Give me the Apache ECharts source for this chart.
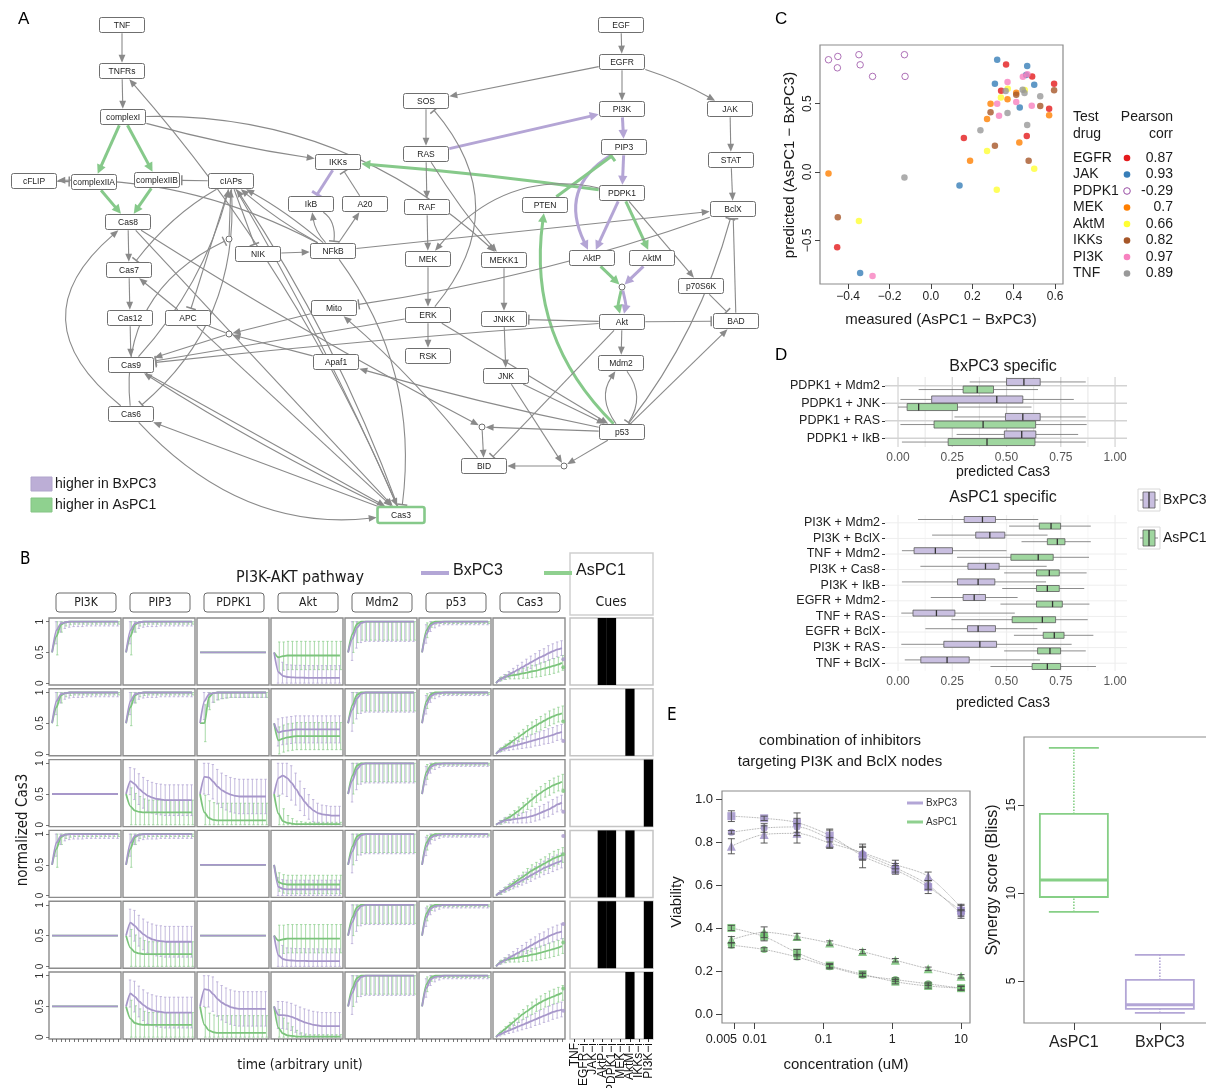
<!DOCTYPE html>
<html><head><meta charset="utf-8">
<script src="https://cdn.jsdelivr.net/npm/echarts@6.0.0/dist/echarts.min.js"></script>
<style>html,body{margin:0;padding:0;background:#fff;}#chart{width:1206px;height:1088px;}</style>
</head><body><div id="chart"></div>
<script>
// ================= Panel A : signalling network =================
const netNodes = [
 ['TNF',122,25],['TNFRs',122,71],['complexI',123,117],['cFLIP',34,181],['complexIIA',94,182],['complexIIB',157,180],['cIAPs',231,181],
 ['Cas8',128,222],['Cas7',129,270],['Cas12',130,318],['APC',188,318],['Cas9',131,365],['Cas6',131,414],
 ['NIK',258,254],['NFkB',333,251],['IkB',311,204],['A20',365,204],['IKKs',338,162],['Mito',334,308],['Apaf1',336,362],['Cas3',401,515],
 ['SOS',426,101],['RAS',426,154],['RAF',427,207],['MEK',428,259],['MEKK1',504,260],['ERK',428,315],['RSK',428,356],['JNKK',504,319],['JNK',506,376],['BID',484,466],
 ['PTEN',545,205],['EGF',621,25],['EGFR',622,62],['PI3K',622,109],['PIP3',624,147],['PDPK1',622,193],['AktP',592,258],['AktM',652,258],
 ['Akt',622,322],['Mdm2',621,363],['p53',622,432],['JAK',730,109],['STAT',731,160],['BclX',733,209],['p70S6K',701,286],['BAD',736,321]
];
const netJunctions = [['J1',622,287],['J2',482,427],['J3',564,466],['J4',229,334],['J5',229,239]];
// [source, target, a=activation / i=inhibition, g=grey / G=higher in AsPC1 / P=higher in BxPC3, curvature]
const netEdges = [
 ['TNF','TNFRs','a','g',0],['TNFRs','complexI','a','g',0],
 ['complexI','complexIIA','a','G',0],['complexI','complexIIB','a','G',0],
 ['complexIIA','Cas8','a','G',0],['complexIIB','Cas8','a','G',0],
 ['cFLIP','complexIIA','i','g',0],['cIAPs','complexIIB','i','g',0],
 ['complexI','IKKs','a','g',0.03],['complexI','MEKK1','a','g',-0.2],
 ['NFkB','cFLIP','a','g',0.13],['NFkB','IkB','a','g',-0.15],['NFkB','A20','a','g',0],
 ['A20','IKKs','i','g',0],['IKKs','IkB','i','P',0],['IkB','NFkB','i','g',-0.3],
 ['NIK','NFkB','a','g',0],['cIAPs','NIK','i','g',0],
 ['NFkB','cIAPs','a','g',0.05],['NFkB','cIAPs','a','g',-0.05],['NFkB','BclX','a','g',0.0],
 ['PDPK1','IKKs','a','G',0.015],['RAS','PI3K','a','P',0],['PI3K','PIP3','a','P',0],['PIP3','PDPK1','a','P',0],
 ['PIP3','AktP','a','P',0.45],['PDPK1','AktP','a','P',0],['PDPK1','AktM','a','G',0],
 ['PTEN','PIP3','i','G',0],['p53','PTEN','a','G',-0.25],
 ['AktP','J1','a','G',0],['AktM','J1','a','P',0],['J1','Akt','a','G',0.12],['J1','Akt','a','P',-0.12],
 ['EGF','EGFR','a','g',0],['EGFR','PI3K','a','g',0],['EGFR','SOS','a','g',0],['EGFR','JAK','a','g',-0.05],
 ['JAK','STAT','a','g',0],['STAT','BclX','a','g',0],
 ['SOS','RAS','a','g',0],['RAS','RAF','a','g',0],['RAF','MEK','a','g',0],['MEK','ERK','a','g',0],['ERK','RSK','a','g',0],
 ['MEKK1','JNKK','a','g',0],['JNKK','JNK','a','g',0],['RAS','MEKK1','a','g',0.04],
 ['ERK','SOS','i','g',0.42],['PDPK1','MEK','a','g',0.3],['PDPK1','p70S6K','a','g',0],['p70S6K','BAD','i','g',0],
 ['Akt','JNKK','i','g',0],['Akt','BAD','i','g',0],['Akt','Mdm2','a','g',0],
 ['Mdm2','p53','i','g',-0.35],['p53','Mdm2','a','g',-0.35],['p53','BAD','a','g',0],['p53','BclX','i','g',0.1],['BAD','BclX','i','g',0],
 ['Akt','BID','i','g',0],['p53','J2','a','g',0],['J2','BID','a','g',0],['Cas8','J2','a','g',0.02],
 ['JNK','J3','a','g',0],['p53','J3','a','g',0],['J3','BID','a','g',0],['ERK','p53','a','g',0],['JNK','p53','a','g',0],
 ['BID','Mito','a','g',0.05],['p53','Apaf1','a','g',-0.02],['BclX','Mito','i','g',-0.05],
 ['Mito','J4','a','g',0],['Apaf1','J4','a','g',0],['J4','APC','a','g',0],['J4','Cas9','a','g',0],
 ['ERK','Cas9','i','g',0],['Akt','Cas9','i','g',0.01],
 ['Cas8','Cas7','a','g',0],['Cas7','Cas12','a','g',0],['Cas12','Cas9','a','g',0],['APC','Cas7','a','g',0],
 ['cIAPs','Cas7','i','g',0.1],['cIAPs','APC','i','g',0],['Cas9','cIAPs','a','g',0.12],['Cas3','cIAPs','a','g',0.06],
 ['cIAPs','Cas3','a','g',-0.03],['Cas8','Cas3','a','g',0],['Cas9','Cas3','a','g',0],['Cas3','Cas9','a','g',-0.03],
 ['APC','Cas3','a','g',0],['Cas3','Cas6','a','g',0],['Cas6','Cas3','a','g',0.25],['Cas6','Cas8','a','g',-0.6],
 ['Cas6','J5','i','g',-0.35],['J5','cIAPs','a','g',0],['cIAPs','Cas6','i','g',-0.25],
 ['Cas3','TNFRs','a','g',0.08],['NFkB','Cas3','i','g',-0.2]
];
const netLegend = ['higher in BxPC3','higher in AsPC1'];

// ================= Panel B : simulated time courses =================
const bColumns = ['PI3K','PIP3','PDPK1','Akt','Mdm2','p53','Cas3'];
const bTime = [0,1,2,3,4,5,6,7,8,9,10,11,12,13,14,15];
const bYTicks = [0,0.5,1];
const riseB = [0.5,0.86,0.97,0.99,1,1,1,1,1,1,1,1,1,1,1,1];
const riseA = [0.5,0.76,0.95,0.99,1,1,1,1,1,1,1,1,1,1,1,1];
const riseErrB = [0,0.22,0.14,0.1,0.09,0.08,0.08,0.08,0.07,0.07,0.07,0.07,0.07,0.07,0.07,0.07];
const riseErrA = [0,0.3,0.12,0.06,0.05,0.04,0.04,0.04,0.04,0.04,0.04,0.04,0.04,0.04,0.04,0.04];
const flatHalf = [0.5,0.5,0.5,0.5,0.5,0.5,0.5,0.5,0.5,0.5,0.5,0.5,0.5,0.5,0.5,0.5];
const noErr = [0,0,0,0,0,0,0,0,0,0,0,0,0,0,0,0];
const pdpkRiseA = [0.5,0.5,0.92,0.99,1,1,1,1,1,1,1,1,1,1,1,1];
const pdpkErr = [0,0.3,0.2,0.15,0.12,0.1,0.09,0.08,0.08,0.08,0.08,0.08,0.08,0.08,0.08,0.08];
const pip3DecB = [0.5,0.71,0.66,0.58,0.52,0.47,0.44,0.42,0.41,0.4,0.4,0.4,0.4,0.4,0.4,0.4];
const pip3DecA = [0.5,0.3,0.23,0.21,0.2,0.2,0.2,0.2,0.2,0.2,0.2,0.2,0.2,0.2,0.2,0.2];
const decErrB = [0,0.22,0.25,0.25,0.25,0.25,0.25,0.25,0.25,0.25,0.25,0.25,0.25,0.25,0.25,0.25];
const decErrA = [0,0.3,0.28,0.25,0.22,0.2,0.2,0.2,0.2,0.2,0.2,0.2,0.2,0.2,0.2,0.2];
const pdpkDecB = [0.5,0.78,0.77,0.7,0.62,0.56,0.52,0.49,0.47,0.46,0.46,0.46,0.46,0.46,0.46,0.46];
const pdpkDecA = [0.5,0.2,0.11,0.08,0.07,0.07,0.07,0.07,0.07,0.07,0.07,0.07,0.07,0.07,0.07,0.07];
const pdpkDecErr = [0,0.28,0.28,0.28,0.28,0.28,0.28,0.28,0.28,0.28,0.28,0.28,0.28,0.28,0.28,0.28];
const aktInhB = [0.5,0.18,0.12,0.1,0.095,0.09,0.09,0.088,0.086,0.085,0.085,0.085,0.085,0.085,0.085,0.085];
const aktInhA = [0.5,0.42,0.44,0.45,0.45,0.45,0.45,0.45,0.45,0.45,0.45,0.45,0.45,0.45,0.45,0.45];
const aktInhErrB = [0,0.25,0.22,0.2,0.2,0.2,0.2,0.2,0.2,0.2,0.2,0.2,0.2,0.2,0.2,0.2];
const aktInhErrA = [0,0.25,0.23,0.23,0.23,0.23,0.23,0.23,0.23,0.23,0.23,0.23,0.23,0.23,0.23,0.23];
const aktMB = [0.5,0.35,0.37,0.38,0.39,0.4,0.4,0.4,0.4,0.4,0.4,0.4,0.4,0.4,0.4,0.4];
const aktMA = [0.5,0.22,0.25,0.27,0.28,0.29,0.29,0.29,0.29,0.29,0.29,0.29,0.29,0.29,0.29,0.29];
const aktMErr = [0,0.22,0.22,0.22,0.22,0.22,0.22,0.22,0.22,0.22,0.22,0.22,0.22,0.22,0.22,0.22];
const aktPiB = [0.5,0.76,0.8,0.76,0.68,0.58,0.47,0.37,0.29,0.23,0.19,0.17,0.16,0.15,0.15,0.15];
const aktPiA = [0.5,0.18,0.06,0.03,0.02,0.01,0.01,0.01,0.01,0.01,0.01,0.01,0.01,0.01,0.01,0.01];
const aktPiErrB = [0,0.3,0.3,0.3,0.28,0.26,0.24,0.22,0.2,0.18,0.16,0.15,0.15,0.15,0.15,0.15];
const aktPiErrA = [0,0.3,0.2,0.12,0.08,0.05,0.04,0.03,0.03,0.03,0.03,0.03,0.03,0.03,0.03,0.03];
const aktAllB = [0.5,0.14,0.11,0.1,0.1,0.1,0.1,0.1,0.1,0.1,0.1,0.1,0.1,0.1,0.1,0.1];
const aktAllA = [0.5,0.22,0.19,0.18,0.18,0.18,0.18,0.18,0.18,0.18,0.18,0.18,0.18,0.18,0.18,0.18];
const aktAllErr = [0,0.15,0.15,0.15,0.15,0.15,0.15,0.15,0.15,0.15,0.15,0.15,0.15,0.15,0.15,0.15];
const aktMPiB = [0.5,0.36,0.36,0.35,0.33,0.3,0.27,0.24,0.22,0.2,0.19,0.18,0.18,0.18,0.18,0.18];
const aktMPiA = [0.5,0.15,0.06,0.03,0.02,0.01,0.01,0.01,0.01,0.01,0.01,0.01,0.01,0.01,0.01,0.01];
const aktMPiErrB = [0,0.22,0.22,0.22,0.22,0.22,0.22,0.22,0.22,0.22,0.22,0.22,0.22,0.22,0.22,0.22];
const aktMPiErrA = [0,0.3,0.25,0.2,0.15,0.1,0.06,0.04,0.03,0.03,0.03,0.03,0.03,0.03,0.03,0.03];
const mdmB = [0.5,0.72,0.9,0.98,1,1,1,1,1,1,1,1,1,1,1,1];
const mdmA = [0.5,0.8,0.96,1,1,1,1,1,1,1,1,1,1,1,1,1];
const mdmErrB = [0,0.35,0.33,0.32,0.32,0.32,0.32,0.32,0.32,0.32,0.32,0.32,0.32,0.32,0.32,0.32];
const mdmErrA = [0,0.3,0.3,0.3,0.3,0.3,0.3,0.3,0.3,0.3,0.3,0.3,0.3,0.3,0.3,0.3];
const p53B = [0.5,0.8,0.94,0.98,0.99,1,1,1,1,1,1,1,1,1,1,1];
const p53A = [0.5,0.86,0.97,1,1,1,1,1,1,1,1,1,1,1,1,1];
const p53ErrB = [0,0.15,0.1,0.08,0.06,0.05,0.05,0.05,0.05,0.05,0.05,0.05,0.05,0.05,0.05,0.05];
const p53ErrA = [0,0.12,0.06,0.04,0.03,0.03,0.03,0.03,0.03,0.03,0.03,0.03,0.03,0.03,0.03,0.03];
const cas3B1 = [0,0.06,0.1,0.14,0.18,0.22,0.26,0.3,0.34,0.38,0.42,0.45,0.49,0.52,0.55,0.57];
const cas3A1 = [0,0.07,0.1,0.12,0.13,0.14,0.16,0.17,0.19,0.2,0.22,0.24,0.26,0.28,0.3,0.33];
const cas3B2 = [0,0.06,0.09,0.11,0.13,0.15,0.17,0.19,0.21,0.23,0.25,0.27,0.29,0.31,0.34,0.36];
const cas3A2 = [0,0.07,0.12,0.17,0.22,0.27,0.32,0.37,0.42,0.46,0.5,0.54,0.58,0.61,0.64,0.66];
const cas3B3 = [0,0.04,0.07,0.08,0.09,0.1,0.11,0.12,0.14,0.16,0.19,0.22,0.25,0.29,0.33,0.36];
const cas3A3 = [0,0.04,0.08,0.12,0.17,0.22,0.28,0.34,0.4,0.46,0.51,0.56,0.6,0.64,0.67,0.7];
const cas3B4 = [0,0.05,0.09,0.13,0.17,0.21,0.25,0.29,0.33,0.37,0.41,0.45,0.48,0.51,0.54,0.57];
const cas3A4 = [0,0.05,0.1,0.15,0.2,0.25,0.3,0.35,0.4,0.44,0.48,0.52,0.56,0.6,0.63,0.66];
const cas3B6 = [0,0.05,0.08,0.11,0.14,0.17,0.2,0.23,0.26,0.29,0.32,0.35,0.38,0.41,0.43,0.45];
const cas3A6 = [0,0.07,0.13,0.19,0.25,0.31,0.37,0.42,0.47,0.52,0.56,0.6,0.63,0.66,0.69,0.72];
const cas3Err = [0,0.03,0.04,0.05,0.06,0.07,0.08,0.09,0.1,0.1,0.11,0.11,0.12,0.12,0.12,0.12];
const cas3MeasB = [0.39,0.21,0.21,0.97,0.69,0.43];
const cas3MeasA = [0.26,0.53,0.55,0.67,0.39,0.79];
const cueNames = ['TNF','EGFR\u2212i','JAK\u2212i','AktP\u2212i','PDPK1\u2212i','MEK\u2212i','AktM\u2212i','IKKs\u2212i','PI3K\u2212i'];
const cueMatrix = [
 [0,0,0,1,1,0,0,0,0],
 [0,0,0,0,0,0,1,0,0],
 [0,0,0,0,0,0,0,0,1],
 [0,0,0,1,1,0,1,0,0],
 [0,0,0,1,1,0,0,0,1],
 [0,0,0,0,0,0,1,0,1]
];
const P = (b,a,eb,ea) => ({b,a,eb,ea});
const cRise = P(riseB,riseA,riseErrB,riseErrA);
const cFlat = P(flatHalf,flatHalf,noErr,noErr);
const cMdm = P(mdmB,mdmA,mdmErrB,mdmErrA);
const cP53 = P(p53B,p53A,p53ErrB,p53ErrA);
const cPip3Dec = P(pip3DecB,pip3DecA,decErrB,decErrA);
const cPdpkDec = P(pdpkDecB,pdpkDecA,pdpkDecErr,pdpkDecErr);
const bCells = [
 [cRise, cRise, cFlat, P(aktInhB,aktInhA,aktInhErrB,aktInhErrA), cMdm, cP53, P(cas3B1,cas3A1,cas3Err,cas3Err)],
 [cRise, cRise, P(riseB,pdpkRiseA,pdpkErr,pdpkErr), P(aktMB,aktMA,aktMErr,aktMErr), cMdm, cP53, P(cas3B2,cas3A2,cas3Err,cas3Err)],
 [cFlat, cPip3Dec, cPdpkDec, P(aktPiB,aktPiA,aktPiErrB,aktPiErrA), cMdm, cP53, P(cas3B3,cas3A3,cas3Err,cas3Err)],
 [cRise, cRise, cFlat, P(aktAllB,aktAllA,aktAllErr,aktAllErr), cMdm, cP53, P(cas3B4,cas3A4,cas3Err,cas3Err)],
 [cFlat, cPip3Dec, cFlat, P(aktInhB,aktInhA,aktInhErrB,aktInhErrA), cMdm, cP53, P(cas3B1,cas3A1,cas3Err,cas3Err)],
 [cFlat, cPip3Dec, cPdpkDec, P(aktMPiB,aktMPiA,aktMPiErrB,aktMPiErrA), cMdm, cP53, P(cas3B6,cas3A6,cas3Err,cas3Err)]
];

// ================= Panel C : predicted vs measured =================
const cXTicks = [-0.4,-0.2,0,0.2,0.4,0.6];
const cYTicks = [-0.5,0,0.5];
const cDrugs = ['EGFR','JAK','PDPK1','MEK','AktM','IKKs','PI3K','TNF'];
const cCorr = ['0.87','0.93','-0.29','0.7','0.66','0.82','0.97','0.89'];
const cEGFR = [[0.363,0.788],[0.339,0.595],[0.489,0.70],[0.595,0.646],[0.571,0.463],[0.463,0.263],[0.159,0.249],[-0.453,-0.551]];
const cJAK = [[0.32,0.822],[0.465,0.776],[0.309,0.646],[0.499,0.639],[0.429,0.473],[0.138,-0.098],[-0.342,-0.739],[0.46,0.71]];
const cPDPK1 = [[-0.495,0.822],[-0.45,0.846],[-0.452,0.763],[-0.348,0.859],[-0.342,0.785],[-0.282,0.70],[-0.128,0.859],[-0.125,0.70]];
const cMEK = [[-0.495,-0.01],[0.189,0.083],[0.271,0.388],[0.288,0.5],[0.37,0.532],[0.412,0.58],[0.571,0.415],[0.427,0.217]];
const cAktM = [[-0.348,-0.359],[0.271,0.154],[0.318,-0.129],[0.338,0.546],[0.371,0.61],[0.499,0.024],[0.453,0.6]];
const cIKKs = [[-0.45,-0.332],[0.288,0.437],[0.309,0.193],[0.412,0.566],[0.472,0.083],[0.528,0.483],[0.595,0.598]];
const cPI3K = [[-0.282,-0.761],[0.32,0.5],[0.329,0.412],[0.37,0.659],[0.412,0.512],[0.444,0.698],[0.466,0.715],[0.487,0.485]];
const cTNF = [[-0.128,-0.041],[0.239,0.305],[0.361,0.593],[0.37,0.432],[0.443,0.602],[0.452,0.578],[0.465,0.344],[0.528,0.554]];
const cPoints = [cEGFR,cJAK,cPDPK1,cMEK,cAktM,cIKKs,cPI3K,cTNF];

// ================= Panel D : predicted Cas3 box plots =================
const dTicks = [0,0.25,0.5,0.75,1];
const dTopCats = ['PDPK1 + Mdm2','PDPK1 + JNK','PDPK1 + RAS','PDPK1 + IkB'];
const dTopBx = [[0.33,0.50,0.58,0.655,0.865],[0.011,0.155,0.455,0.575,0.81],[0.26,0.495,0.575,0.655,0.865],[0.27,0.49,0.57,0.635,0.83]];
const dTopAs = [[0.095,0.30,0.365,0.44,0.645],[0.0,0.042,0.095,0.274,0.615],[0.011,0.166,0.392,0.634,0.869],[0.018,0.231,0.41,0.631,0.865]];
const dBotCats = ['PI3K + Mdm2','PI3K + BclX','TNF + Mdm2','PI3K + Cas8','PI3K + IkB','EGFR + Mdm2','TNF + RAS','EGFR + BclX','PI3K + RAS','TNF + BclX'];
const dBotBx = [[0.092,0.305,0.389,0.449,0.646],[0.157,0.358,0.423,0.492,0.689],[0.018,0.074,0.172,0.251,0.50],[0.103,0.322,0.403,0.466,0.685],[0.018,0.274,0.369,0.446,0.682],[0.151,0.30,0.351,0.403,0.551],[0.015,0.069,0.177,0.262,0.538],[0.126,0.32,0.369,0.449,0.642],[0.015,0.211,0.377,0.454,0.80],[0.031,0.105,0.226,0.328,0.654]];
const dBotAs = [[0.512,0.651,0.705,0.749,0.888],[0.569,0.688,0.734,0.769,0.888],[0.272,0.52,0.646,0.715,0.88],[0.489,0.638,0.697,0.743,0.869],[0.48,0.638,0.688,0.743,0.858],[0.472,0.638,0.712,0.757,0.882],[0.246,0.526,0.665,0.726,0.874],[0.534,0.669,0.72,0.765,0.90],[0.489,0.643,0.70,0.749,0.865],[0.426,0.618,0.688,0.749,0.912]];

// ================= Panel E : viability and synergy =================
const eConc = [0.00457,0.0137,0.0412,0.123,0.370,1.11,3.33,10];
const eXTicks = [0.005,0.01,0.1,1,10];
const eXTickLabels = ['0.005','0.01','0.1','1','10'];
const eYTicks = [0,0.2,0.4,0.6,0.8,1.0];
const eBxSq = [0.92,0.91,0.89,0.83,0.735,0.67,0.59,0.48];
const eBxCi = [0.845,0.865,0.87,0.815,0.745,0.68,0.60,0.465];
const eBxTr = [0.78,0.835,0.84,0.795,0.75,0.695,0.64,0.495];
const eAsSq = [0.40,0.36,0.285,0.225,0.185,0.15,0.13,0.12];
const eAsCi = [0.32,0.30,0.265,0.22,0.18,0.16,0.14,0.12];
const eAsTr = [0.345,0.38,0.36,0.33,0.29,0.25,0.21,0.175];
const eBxSqErr = [0.025,0.01,0.045,0.03,0.055,0.02,0.03,0.025];
const eBxCiErr = [0.008,0.02,0.04,0.04,0.03,0.02,0.02,0.02];
const eBxTrErr = [0.035,0.04,0.045,0.025,0.03,0.02,0.02,0.015];
const eAsSqErr = [0.012,0.02,0.015,0.01,0.01,0.01,0.01,0.01];
const eAsCiErr = [0.012,0.008,0.012,0.01,0.008,0.008,0.008,0.008];
const eAsTrErr = [0.015,0.025,0.015,0.01,0.01,0.008,0.008,0.008];
const synCats = ['AsPC1','BxPC3'];
const synTicks = [5,10,15];
const synBoxes = [[8.92,9.77,10.74,14.49,18.24],[3.18,3.41,3.64,5.06,6.48]];

// ================= building the chart =================
const FONT = "'Liberation Sans', Arial, Helvetica, sans-serif";
const NARROW = "'Liberation Sans Narrow', 'DejaVu Sans Condensed', 'Liberation Sans', sans-serif";
const PUR = '#a797ca', GRN = '#7cc47c', PUR_E = '#b6aad6', GRN_E = '#92d092';
const grids = [], xAxes = [], yAxes = [], series = [], graphics = [];
const noLine = {show: false, onZero: false};
function addGrid(g, xa, ya) {
  grids.push(Object.assign({outerBoundsMode: 'none', containLabel: false}, g));
  const gi = grids.length - 1;
  xAxes.push(Object.assign({gridIndex: gi, axisLine: noLine}, xa));
  yAxes.push(Object.assign({gridIndex: gi, axisLine: noLine}, ya));
  return gi;
}
function txt(text, x, y, opt) {
  opt = opt || {};
  graphics.push({type: 'text', x: x, y: y, rotation: opt.rot || 0, silent: true, z: 100,
    style: {text: text, font: opt.font || ('13px ' + FONT), fill: opt.color || '#1a1a1a',
      textAlign: opt.align || 'left', textVerticalAlign: opt.valign || 'middle'}});
}
function rectG(x, y, w, h, style, r) {
  graphics.push({type: 'rect', silent: true, z: 99, shape: {x: x, y: y, width: w, height: h, r: r || 0}, style: style});
}
function lineG(x1, y1, x2, y2, style) {
  graphics.push({type: 'line', silent: true, z: 99, shape: {x1: x1, y1: y1, x2: x2, y2: y2}, style: style});
}
function errBarSeries(gi, xs, ys, es, color, opt) {
  opt = opt || {};
  return {type: 'custom', xAxisIndex: gi, yAxisIndex: gi, silent: true, z: opt.z || 2, clip: false,
    data: xs.map((x, k) => [x, ys[k], es[k]]),
    renderItem: function (params, api) {
      const e = api.value(2); if (!e) return null;
      const y = api.value(1);
      let lo = y - e, hi = y + e;
      if (opt.clamp) { lo = Math.max(opt.clamp[0], lo); hi = Math.min(opt.clamp[1], hi); }
      const a = api.coord([api.value(0), lo]), b = api.coord([api.value(0), hi]);
      const x = a[0] + (opt.dx || 0), cw = opt.cap || 1.2, lw = opt.lw || 0.8;
      const st = () => ({stroke: color, lineWidth: lw, fill: 'none'});
      return {type: 'group', children: [
        {type: 'line', shape: {x1: x, y1: a[1], x2: x, y2: b[1]}, style: st()},
        {type: 'line', shape: {x1: x - cw, y1: a[1], x2: x + cw, y2: a[1]}, style: st()},
        {type: 'line', shape: {x1: x - cw, y1: b[1], x2: x + cw, y2: b[1]}, style: st()}]};
    }};
}

// ---------- Panel A ----------
const nodeInfo = {};
netNodes.forEach(n => { const big = n[0] === 'Cas3'; nodeInfo[n[0]] = {x: n[1], y: n[2], hw: big ? 23.5 : 22.5, hh: big ? 8 : 7.5}; });
netJunctions.forEach(n => { nodeInfo[n[0]] = {x: n[1], y: n[2], r: 3}; });
const edgeColor = {g: '#8a8a8a', G: '#86c98a', P: '#b4a5d5'};
const gA = addGrid({left: 0, top: 0, width: 760, height: 530},
  {type: 'value', min: 0, max: 760, show: false}, {type: 'value', min: 0, max: 530, inverse: true, show: false});
function boundary(c, info, q) {
  const dx = q[0] - c[0], dy = q[1] - c[1];
  const L = Math.hypot(dx, dy) || 1;
  if (info.r) return [c[0] + dx / L * (info.r + 0.6), c[1] + dy / L * (info.r + 0.6)];
  const sx = Math.abs(dx) > 1e-6 ? (info.hw + 0.8) / Math.abs(dx) : Infinity;
  const sy = Math.abs(dy) > 1e-6 ? (info.hh + 0.8) / Math.abs(dy) : Infinity;
  const s = Math.min(sx, sy, 1);
  return [c[0] + dx * s, c[1] + dy * s];
}
series.push({type: 'custom', xAxisIndex: gA, yAxisIndex: gA, silent: true, z: 2, clip: false,
  data: netEdges.map((e, i) => [i, 0]),
  renderItem: function (params, api) {
    const e = netEdges[params.dataIndex];
    const s = nodeInfo[e[0]], t = nodeInfo[e[1]];
    const p0 = api.coord([s.x, s.y]), p1 = api.coord([t.x, t.y]);
    const dx = p1[0] - p0[0], dy = p1[1] - p0[1], L = Math.hypot(dx, dy) || 1;
    const nx = -dy / L, ny = dx / L;
    const cp = [(p0[0] + p1[0]) / 2 + nx * e[4] * L, (p0[1] + p1[1]) / 2 + ny * e[4] * L];
    const a = boundary(p0, s, cp), b = boundary(p1, t, cp);
    const thick = e[3] !== 'g', col = edgeColor[e[3]];
    let tx = b[0] - cp[0], ty = b[1] - cp[1]; const tl = Math.hypot(tx, ty) || 1; tx /= tl; ty /= tl;
    const px = -ty, py = tx;
    const children = [];
    let end;
    if (e[2] === 'a') {
      const al = thick ? 9 : 8, aw = thick ? 4.6 : 3.4;
      const bx = b[0] - tx * al, by = b[1] - ty * al;
      children.push({type: 'polygon', shape: {points: [[b[0], b[1]], [bx + px * aw, by + py * aw], [bx - px * aw, by - py * aw]]}, style: {fill: col, stroke: 'none'}});
      end = [bx + tx, by + ty];
    } else {
      const ex = b[0] - tx * 1.5, ey = b[1] - ty * 1.5, hl = thick ? 6 : 5;
      children.push({type: 'line', shape: {x1: ex + px * hl, y1: ey + py * hl, x2: ex - px * hl, y2: ey - py * hl}, style: {stroke: col, lineWidth: thick ? 3 : 1.5, fill: 'none'}});
      end = [ex, ey];
    }
    children.push({type: 'bezierCurve', shape: {x1: a[0], y1: a[1], x2: end[0], y2: end[1], cpx1: cp[0], cpy1: cp[1]},
      style: {stroke: col, lineWidth: thick ? 3 : 1.1, fill: 'none'}});
    return {type: 'group', children: children};
  }});
series.push({type: 'custom', xAxisIndex: gA, yAxisIndex: gA, silent: true, z: 5, clip: false,
  data: netNodes.map(n => [n[1], n[2]]),
  renderItem: function (params, api) {
    const n = netNodes[params.dataIndex], info = nodeInfo[n[0]];
    const c = api.coord([api.value(0), api.value(1)]);
    const big = n[0] === 'Cas3';
    return {type: 'group', children: [
      {type: 'rect', shape: {x: c[0] - info.hw, y: c[1] - info.hh, width: info.hw * 2, height: info.hh * 2, r: 2},
        style: {fill: '#ffffff', stroke: big ? '#86c98a' : '#6f6f6f', lineWidth: big ? 2.6 : 1}},
      {type: 'text', x: c[0], y: c[1] + 0.5, style: {text: n[0], font: '8.5px ' + FONT, fill: '#222', textAlign: 'center', textVerticalAlign: 'middle'}}]};
  }});
series.push({type: 'custom', xAxisIndex: gA, yAxisIndex: gA, silent: true, z: 5, clip: false,
  data: netJunctions.map(n => [n[1], n[2]]),
  renderItem: function (params, api) {
    const c = api.coord([api.value(0), api.value(1)]);
    return {type: 'circle', shape: {cx: c[0], cy: c[1], r: 3}, style: {fill: '#fff', stroke: '#6f6f6f', lineWidth: 1}};
  }});
rectG(31, 477, 21, 14, {fill: '#bcaed6', stroke: '#b0a4cc', lineWidth: 1});
rectG(31, 498, 21, 14, {fill: '#8fd18f', stroke: '#84c484', lineWidth: 1});
txt(netLegend[0], 55, 484, {font: '14px ' + FONT});
txt(netLegend[1], 55, 505, {font: '14px ' + FONT});

// ---------- Panel B ----------
const bLeft0 = 49, bPitchX = 74, bW = 72, bTop0 = 618, bPitchY = 70.8, bH = 67;
for (let r = 0; r < 6; r++) {
  for (let c = 0; c < 7; c++) {
    const cell = bCells[r][c];
    const gi = addGrid({left: bLeft0 + c * bPitchX, top: bTop0 + r * bPitchY, width: bW, height: bH, show: true, borderColor: '#8c8c8c', borderWidth: 1.4, backgroundColor: '#fff'},
      {type: 'value', min: -0.7, max: 15.7, splitLine: {show: false}, axisLabel: {show: false},
        axisTick: {show: r === 5, length: 3, customValues: bTime, lineStyle: {color: '#555', width: 0.8}}},
      {type: 'value', min: -0.03, max: 1.06, splitLine: {show: false},
        axisLabel: {show: c === 0, rotate: 90, customValues: bYTicks, fontSize: 10, color: '#333', margin: 4, fontFamily: FONT, formatter: v => String(v)},
        axisTick: {show: c === 0, length: 3, customValues: bYTicks, lineStyle: {color: '#555', width: 0.8}}});
    series.push(errBarSeries(gi, bTime, cell.a, cell.ea, GRN_E, {dx: 0.8, clamp: [0, 1], z: 2}));
    series.push(errBarSeries(gi, bTime, cell.b, cell.eb, PUR_E, {dx: -0.4, clamp: [0, 1], z: 2}));
    series.push({type: 'line', xAxisIndex: gi, yAxisIndex: gi, silent: true, z: 3, symbol: 'none', smooth: 0.25, smoothMonotone: 'x',
      data: bTime.map((t, k) => [t, cell.a[k]]), lineStyle: {color: GRN, width: 1.8}});
    series.push({type: 'line', xAxisIndex: gi, yAxisIndex: gi, silent: true, z: 4, symbol: 'none', smooth: 0.25, smoothMonotone: 'x',
      data: bTime.map((t, k) => [t, cell.b[k]]), lineStyle: {color: PUR, width: 1.8}});
    if (c === 6) {
      series.push({type: 'scatter', xAxisIndex: gi, yAxisIndex: gi, silent: true, z: 5, symbolSize: 4,
        data: [[15.3, cas3MeasB[r]]], itemStyle: {color: PUR}});
      series.push({type: 'scatter', xAxisIndex: gi, yAxisIndex: gi, silent: true, z: 5, symbolSize: 4,
        data: [[15.3, cas3MeasA[r]]], itemStyle: {color: GRN}});
    }
  }
  const gc = addGrid({left: 570, top: bTop0 + r * bPitchY, width: 83, height: bH, show: true, borderColor: '#c4c4c4', borderWidth: 1.5},
    {type: 'category', data: cueNames, boundaryGap: true, splitLine: {show: false},
      axisTick: {show: r === 5, alignWithLabel: true, length: 3, lineStyle: {color: '#333'}},
      axisLabel: {show: r === 5, interval: 0, rotate: 90, fontSize: 12, color: '#111', margin: 4, fontFamily: FONT}},
    {type: 'value', min: 0, max: 1, show: false});
  series.push({type: 'bar', xAxisIndex: gc, yAxisIndex: gc, silent: true, barCategoryGap: '0%', barGap: '0%',
    data: cueMatrix[r], itemStyle: {color: '#000'}});
}
bColumns.forEach((name, c) => {
  const cx = bLeft0 + c * bPitchX + 37;
  rectG(cx - 30, 593, 60, 19, {fill: '#fff', stroke: '#6a6a6a', lineWidth: 1}, 3);
  txt(name, cx, 603, {font: '12px ' + NARROW, align: 'center', color: '#222'});
});
rectG(570, 553, 83, 62, {fill: 'none', stroke: '#cfcfcf', lineWidth: 1.5});
txt('Cues', 611, 602, {font: '14px ' + NARROW, align: 'center'});
txt('PI3K-AKT pathway', 300, 578, {font: '16px ' + NARROW, align: 'center'});
lineG(421, 573, 449, 573, {stroke: '#b3a6d6', lineWidth: 4});
txt('BxPC3', 453, 571, {font: '16px ' + FONT});
lineG(544, 573, 572, 573, {stroke: '#8fd08f', lineWidth: 4});
txt('AsPC1', 576, 571, {font: '16px ' + FONT});
txt('normalized Cas3', 23, 830, {font: '15px ' + NARROW, align: 'center', rot: Math.PI / 2});
txt('time (arbitrary unit)', 300, 1065, {font: '14px ' + NARROW, align: 'center'});

// ---------- Panel C ----------
const minusFmt = (v, d) => (v < -1e-9 ? '\u2212' : '') + Math.abs(v).toFixed(d);
const gC = addGrid({left: 820, top: 45, width: 243, height: 239, show: true, borderColor: '#8c8c8c', borderWidth: 1.2},
  {type: 'value', min: -0.536, max: 0.638, splitLine: {show: false},
    axisTick: {customValues: cXTicks, length: 5, lineStyle: {color: '#444'}},
    axisLabel: {customValues: cXTicks, formatter: v => minusFmt(v, 1), fontSize: 12, color: '#222', margin: 7, fontFamily: FONT, hideOverlap: false}},
  {type: 'value', min: -0.82, max: 0.93, splitLine: {show: false},
    axisTick: {customValues: cYTicks, length: 5, lineStyle: {color: '#444'}},
    axisLabel: {customValues: cYTicks, formatter: v => minusFmt(v, 1), rotate: 90, fontSize: 12, color: '#222', margin: 6, fontFamily: FONT}});
const cColors = ['#e41a1c', '#377eb8', '#984ea3', '#ff7f00', '#ffff33', '#a65628', '#f781bf', '#999999'];
cPoints.forEach((pts, i) => {
  const hollow = cDrugs[i] === 'PDPK1';
  series.push({type: 'scatter', xAxisIndex: gC, yAxisIndex: gC, silent: true, symbolSize: 6.5, data: pts,
    itemStyle: hollow ? {color: '#fff', borderColor: '#9a4fa5', borderWidth: 1} : {color: cColors[i]}});
});
txt('measured (AsPC1 \u2212 BxPC3)', 941, 320, {font: '15px ' + FONT, align: 'center'});
txt('predicted (AsPC1 \u2212 BxPC3)', 790, 165, {font: '15px ' + FONT, align: 'center', rot: Math.PI / 2});
txt('Test', 1073, 117, {font: '14px ' + FONT});
txt('drug', 1073, 134, {font: '14px ' + FONT});
txt('Pearson', 1173, 117, {font: '14px ' + FONT, align: 'right'});
txt('corr', 1173, 134, {font: '14px ' + FONT, align: 'right'});
cDrugs.forEach((d, i) => {
  const y = 158 + i * 16.5;
  txt(d, 1073, y, {font: '14px ' + FONT});
  txt(cCorr[i], 1173, y, {font: '14px ' + FONT, align: 'right'});
  graphics.push({type: 'circle', silent: true, z: 100, shape: {cx: 1127, cy: y, r: 3.3},
    style: d === 'PDPK1' ? {fill: '#fff', stroke: '#9a4fa5', lineWidth: 1} : {fill: cColors[i]}});
});

// ---------- Panel D ----------
function dGridLines(gi, cats, color, hColor, hw) {
  return {type: 'custom', xAxisIndex: gi, yAxisIndex: gi, silent: true, z: 0, clip: false, data: [[0, 0]],
    renderItem: function (params, api) {
      const cs = params.coordSys, children = [];
      dTicks.forEach((v, k) => {
        const x = api.coord([v, 0])[0];
        children.push({type: 'line', shape: {x1: x, y1: cs.y, x2: x, y2: cs.y + cs.height}, style: {stroke: color, lineWidth: 1.2, fill: 'none'}});
        if (k < dTicks.length - 1) {
          const xm = api.coord([(v + dTicks[k + 1]) / 2, 0])[0];
          children.push({type: 'line', shape: {x1: xm, y1: cs.y, x2: xm, y2: cs.y + cs.height}, style: {stroke: color, lineWidth: 0.6, fill: 'none'}});
        }
      });
      cats.forEach((c, i) => {
        const y = api.coord([0, i])[1];
        children.push({type: 'line', shape: {x1: cs.x, y1: y, x2: cs.x + cs.width, y2: y}, style: {stroke: hColor, lineWidth: hw, fill: 'none'}});
      });
      return {type: 'group', children: children};
    }};
}
function dBoxes(gi, boxesB, boxesA, bh) {
  return {type: 'custom', xAxisIndex: gi, yAxisIndex: gi, silent: true, z: 3, clip: false,
    data: boxesB.map((b, i) => [0, i]),
    renderItem: function (params, api) {
      const i = params.dataIndex, cy = api.coord([0, i])[1], children = [];
      [[boxesB[i], '#c9bfe0', -1], [boxesA[i], '#9fd69f', 1]].forEach(item => {
        const v = item[0], col = item[1], y0 = cy + item[2] * (bh / 2 + 0.3);
        const p = v.map(x => api.coord([x, i])[0]);
        children.push({type: 'line', shape: {x1: p[0], y1: y0, x2: p[1], y2: y0}, style: {stroke: '#707070', lineWidth: 0.8, fill: 'none'}});
        children.push({type: 'line', shape: {x1: p[3], y1: y0, x2: p[4], y2: y0}, style: {stroke: '#707070', lineWidth: 0.8, fill: 'none'}});
        children.push({type: 'rect', shape: {x: p[1], y: y0 - bh / 2, width: p[3] - p[1], height: bh}, style: {fill: col, stroke: '#5a5a5a', lineWidth: 0.8}});
        children.push({type: 'line', shape: {x1: p[2], y1: y0 - bh / 2, x2: p[2], y2: y0 + bh / 2}, style: {stroke: '#333', lineWidth: 1.3, fill: 'none'}});
      });
      return {type: 'group', children: children};
    }};
}
function dAxes(cats) {
  return [
    {type: 'value', min: -0.06, max: 1.055, splitLine: {show: false},
      axisTick: {customValues: dTicks, length: 3, lineStyle: {color: '#555'}},
      axisLabel: {customValues: dTicks, formatter: v => v.toFixed(2), fontSize: 12, color: '#555', margin: 5, fontFamily: FONT}},
    {type: 'category', data: cats, inverse: true, splitLine: {show: false},
      axisTick: {show: true, alignWithLabel: true, length: 3, lineStyle: {color: '#333'}},
      axisLabel: {interval: 0, fontSize: 12.5, color: '#222', margin: 5, fontFamily: FONT, hideOverlap: false}}];
}
let ax = dAxes(dTopCats);
const gDT = addGrid({left: 885, top: 377, width: 242, height: 70}, ax[0], ax[1]);
series.push(dGridLines(gDT, dTopCats, '#d3d3d3', '#d3d3d3', 1.6));
series.push(dBoxes(gDT, dTopBx, dTopAs, 7));
ax = dAxes(dBotCats);
const gDB = addGrid({left: 885, top: 515, width: 242, height: 156}, ax[0], ax[1]);
series.push(dGridLines(gDB, dBotCats, '#eeeeee', '#eeeeee', 1));
series.push(dBoxes(gDB, dBotBx, dBotAs, 6));
txt('BxPC3 specific', 1003, 367, {font: '16px ' + FONT, align: 'center'});
txt('predicted Cas3', 1003, 472, {font: '14px ' + FONT, align: 'center'});
txt('AsPC1 specific', 1003, 498, {font: '16px ' + FONT, align: 'center'});
txt('predicted Cas3', 1003, 703, {font: '14px ' + FONT, align: 'center'});
[['BxPC3', '#c9bfe0', 500], ['AsPC1', '#9fd69f', 538]].forEach(l => {
  const y = l[2];
  rectG(1138, y - 11, 22, 22, {fill: '#fff', stroke: '#d8d8d8', lineWidth: 1});
  lineG(1140, y, 1158, y, {stroke: '#707070', lineWidth: 0.8});
  rectG(1143, y - 8, 12, 16, {fill: l[1], stroke: '#5a5a5a', lineWidth: 0.8});
  lineG(1149, y - 8, 1149, y + 8, {stroke: '#333', lineWidth: 1.3});
  txt(l[0], 1163, y, {font: '14px ' + FONT});
});

// ---------- Panel E (left) ----------
const eXTickPos = eXTicks.map(Math.log10);
const eXMin = Math.log10(0.00334), eXMax = Math.log10(13.5);
const eTickFmt = v => { let best = 0; eXTickPos.forEach((t, k) => { if (Math.abs(t - v) < Math.abs(eXTickPos[best] - v)) best = k; }); return eXTickLabels[best]; };
const gE = addGrid({left: 722, top: 791, width: 248, height: 232, show: true, borderColor: '#8c8c8c', borderWidth: 1.2},
  {type: 'value', min: eXMin, max: eXMax, splitLine: {show: false},
    axisTick: {customValues: eXTickPos, length: 6, lineStyle: {color: '#444'}},
    axisLabel: {customValues: eXTickPos.slice(1), fontSize: 12.5, color: '#222', margin: 10, fontFamily: FONT, hideOverlap: false,
      formatter: eTickFmt}},
  {type: 'value', min: -0.042, max: 1.037, splitLine: {show: false},
    axisTick: {customValues: eYTicks, length: 6, lineStyle: {color: '#444'}},
    axisLabel: {customValues: eYTicks, formatter: v => v.toFixed(1), fontSize: 13, color: '#222', margin: 9, fontFamily: FONT}});
// second bottom axis on the same grid carrying only the first (crowded) tick label, right-aligned like the original
xAxes.push({gridIndex: gE, type: 'value', position: 'bottom', min: eXMin, max: eXMax, axisLine: noLine, splitLine: {show: false},
  axisTick: {show: false},
  axisLabel: {customValues: [eXTickPos[0]], fontSize: 12.5, color: '#222', margin: 10, fontFamily: FONT, align: 'right',
    padding: [0, -3, 0, 0], formatter: eTickFmt}});
const eLX = eConc.map(Math.log10);
const eReps = [
  [eBxSq, eBxSqErr, 'rect', '#9a8bc6', 8], [eBxCi, eBxCiErr, 'circle', '#9a8bc6', 7], [eBxTr, eBxTrErr, 'triangle', '#9a8bc6', 9],
  [eAsSq, eAsSqErr, 'rect', '#6cbd6c', 8], [eAsCi, eAsCiErr, 'circle', '#6cbd6c', 7], [eAsTr, eAsTrErr, 'triangle', '#6cbd6c', 9]];
eReps.forEach(rp => {
  series.push({type: 'line', xAxisIndex: gE, yAxisIndex: gE, silent: true, z: 2, symbol: 'none', smooth: 0.3,
    data: eLX.map((x, k) => [x, rp[0][k]]), lineStyle: {color: '#8d8d8d', width: 0.8, type: 'dotted'}});
  series.push({type: 'scatter', xAxisIndex: gE, yAxisIndex: gE, silent: true, z: 3, symbol: rp[2], symbolSize: rp[4],
    data: eLX.map((x, k) => [x, rp[0][k]]), itemStyle: {color: rp[3]}});
  series.push(errBarSeries(gE, eLX, rp[0], rp[1], '#4a4a4a', {z: 4, cap: 3.5, lw: 0.9}));
});
txt('combination of inhibitors', 840, 741, {font: '15px ' + FONT, align: 'center'});
txt('targeting PI3K and BclX nodes', 840, 762, {font: '15px ' + FONT, align: 'center'});
txt('concentration (uM)', 846, 1065, {font: '15px ' + FONT, align: 'center'});
txt('Viability', 677, 902, {font: '15px ' + FONT, align: 'center', rot: Math.PI / 2});
lineG(907, 803, 923, 803, {stroke: '#b3a6d6', lineWidth: 3});
txt('BxPC3', 926, 803, {font: '10px ' + FONT, color: '#333'});
lineG(907, 822, 923, 822, {stroke: '#8fd08f', lineWidth: 3});
txt('AsPC1', 926, 822, {font: '10px ' + FONT, color: '#333'});

// ---------- Panel E (right) ----------
const gS = grids.length;
grids.push({outerBoundsMode: 'none', containLabel: false, left: 1024, top: 737, width: 192, height: 286, show: true, borderColor: '#8c8c8c', borderWidth: 1.2});
const gSx = xAxes.length, gSy = yAxes.length;
xAxes.push({gridIndex: gS, type: 'value', min: -0.58, max: 1.653, axisLine: noLine, splitLine: {show: false},
    axisTick: {customValues: [0, 1], length: 7, lineStyle: {color: '#444'}},
    axisLabel: {customValues: [0, 1], formatter: v => synCats[Math.round(v)], fontSize: 16, color: '#222', margin: 12, fontFamily: FONT}});
yAxes.push({gridIndex: gS, type: 'value', min: 2.61, max: 18.86, axisLine: noLine, splitLine: {show: false},
    axisTick: {customValues: synTicks, length: 6, lineStyle: {color: '#444'}},
    axisLabel: {customValues: synTicks, rotate: 90, fontSize: 12, color: '#222', margin: 6, fontFamily: FONT}});
const synColors = ['#86cf86', '#b3a6d6'];
series.push({type: 'custom', xAxisIndex: gSx, yAxisIndex: gSy, silent: true, z: 3, clip: false,
  data: synBoxes.map((b, i) => [i, b[2]]),
  renderItem: function (params, api) {
    const i = params.dataIndex, v = synBoxes[i], col = synColors[i];
    const cx = api.coord([i, 0])[0], p = v.map(y => api.coord([i, y])[1]);
    const hw = 34, cw = 25;
    const st = (w, dash) => ({stroke: col, lineWidth: w, fill: 'none', lineDash: dash || null});
    return {type: 'group', children: [
      {type: 'line', shape: {x1: cx, y1: p[0], x2: cx, y2: p[1]}, style: st(1.6, [1.5, 1.5])},
      {type: 'line', shape: {x1: cx, y1: p[3], x2: cx, y2: p[4]}, style: st(1.6, [1.5, 1.5])},
      {type: 'line', shape: {x1: cx - cw, y1: p[0], x2: cx + cw, y2: p[0]}, style: st(1.8)},
      {type: 'line', shape: {x1: cx - cw, y1: p[4], x2: cx + cw, y2: p[4]}, style: st(1.8)},
      {type: 'rect', shape: {x: cx - hw, y: p[3], width: hw * 2, height: p[1] - p[3]}, style: {fill: 'none', stroke: col, lineWidth: 1.8}},
      {type: 'line', shape: {x1: cx - hw, y1: p[2], x2: cx + hw, y2: p[2]}, style: st(3)}]};
  }});
txt('Synergy score (Bliss)', 993, 880, {font: '16px ' + FONT, align: 'center', rot: Math.PI / 2});

// ---------- panel letters ----------
txt('A', 18, 19, {font: '17px ' + FONT, color: '#000'});
txt('B', 20, 560, {font: '17px ' + NARROW, color: '#000'});
txt('C', 775, 19, {font: '17px ' + FONT, color: '#000'});
txt('D', 775, 355, {font: '17px ' + FONT, color: '#000'});
txt('E', 667, 716, {font: '17px ' + NARROW, color: '#000'});

const chart = echarts.init(document.getElementById('chart'), null, {renderer: 'canvas', width: 1206, height: 1088});
chart.setOption({animation: false, backgroundColor: '#ffffff', tooltip: {show: false},
  grid: grids, xAxis: xAxes, yAxis: yAxes, series: series, graphic: graphics});
</script></body></html>
